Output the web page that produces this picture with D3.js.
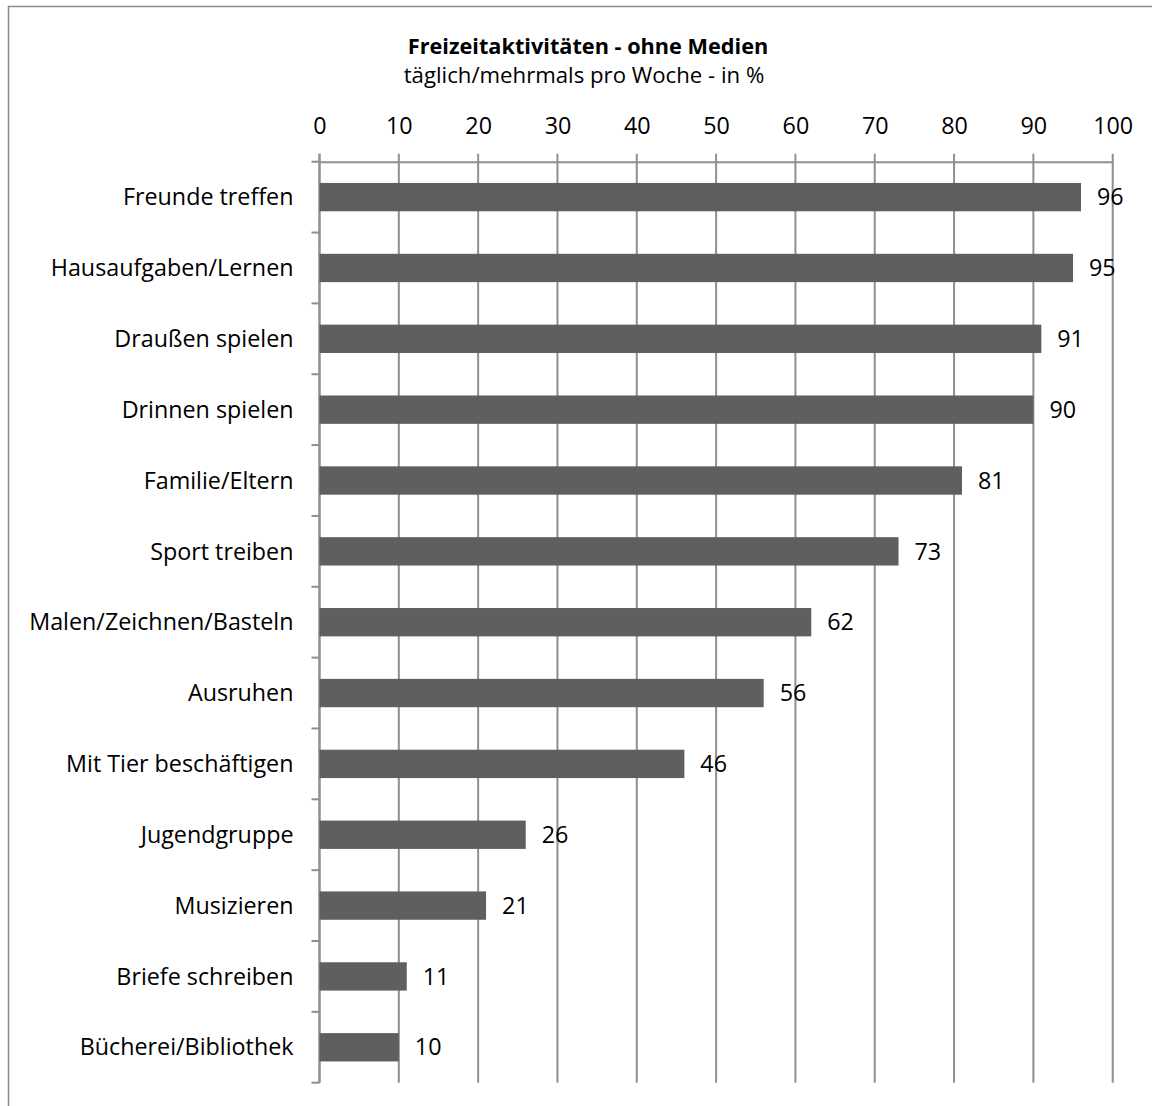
<!DOCTYPE html>
<html>
<head>
<meta charset="utf-8">
<script src="https://cdn.jsdelivr.net/npm/d3@7"></script>
<style>
  html, body { margin: 0; padding: 0; background: #fff; }
  svg { display: block; }
  text { font-family: "Open Sans", sans-serif; fill: #000; }
</style>
</head>
<body>
<script>
// Activities, top to bottom
const categories = [
  "Freunde treffen",
  "Hausaufgaben/Lernen",
  "Draußen spielen",
  "Drinnen spielen",
  "Familie/Eltern",
  "Sport treiben",
  "Malen/Zeichnen/Basteln",
  "Ausruhen",
  "Mit Tier beschäftigen",
  "Jugendgruppe",
  "Musizieren",
  "Briefe schreiben",
  "Bücherei/Bibliothek"
];
// Share "täglich/mehrmals pro Woche" in %
const values = [96, 95, 91, 90, 81, 73, 62, 56, 46, 26, 21, 11, 10];
const xTicks = [0, 10, 20, 30, 40, 50, 60, 70, 80, 90, 100];

const title = "Freizeitaktivitäten - ohne Medien";
const subtitle = "täglich/mehrmals pro Woche - in %";

const W = 1152, H = 1106;
const plot = { left: 319.5, right: 1112.7, top: 161.7, bottom: 1082.7 };
const fontSize = "23.3px";

const svg = d3.select("body").append("svg")
  .attr("width", W).attr("height", H);

// outer chart frame
svg.append("rect")
  .attr("x", 8.5).attr("y", 6.5)
  .attr("width", W + 10).attr("height", H + 10)
  .attr("fill", "none").attr("stroke", "#8a8a8a").attr("stroke-width", 1.5);

svg.append("text")
  .attr("x", 588).attr("y", 54)
  .attr("text-anchor", "middle")
  .style("font-weight", "bold").style("font-size", "21.7px")
  .text(title);
svg.append("text")
  .attr("x", 584).attr("y", 83)
  .attr("text-anchor", "middle")
  .style("font-size", "22.2px")
  .text(subtitle);

const x = d3.scaleLinear().domain([0, 100]).range([plot.left, plot.right]);
const y = d3.scaleBand().domain(categories).range([plot.top, plot.bottom])
  .paddingInner(0.6).paddingOuter(0.3);
const yEdges = d3.scaleLinear().domain([0, categories.length]).range([plot.top, plot.bottom]);

const gridColor = "#8f8f8f";

// vertical gridlines, extending upward past the axis as tick marks
svg.append("g").selectAll("line").data(xTicks).join("line")
  .attr("x1", d => x(d)).attr("x2", d => x(d))
  .attr("y1", plot.top - 8).attr("y2", plot.bottom)
  .attr("stroke", gridColor).attr("stroke-width", 2);

// top value axis
const xAxis = d3.axisTop(x).tickValues(xTicks).tickSize(0).tickPadding(0).tickFormat(d3.format("d"));
const gx = svg.append("g").attr("transform", `translate(0,${plot.top})`).call(xAxis);
gx.select(".domain").attr("stroke", gridColor).attr("stroke-width", 2);
gx.selectAll("text").attr("y", -27.5).style("font-size", fontSize).attr("dy", 0);

// category axis line with boundary ticks
svg.append("line")
  .attr("x1", plot.left).attr("x2", plot.left)
  .attr("y1", plot.top - 8).attr("y2", plot.bottom)
  .attr("stroke", gridColor).attr("stroke-width", 2);
svg.append("g").selectAll("line").data(d3.range(categories.length + 1)).join("line")
  .attr("x1", plot.left - 8).attr("x2", plot.left)
  .attr("y1", d => yEdges(d)).attr("y2", d => yEdges(d))
  .attr("stroke", gridColor).attr("stroke-width", 2);

const yAxis = d3.axisLeft(y).tickSize(0).tickPadding(0);
const gy = svg.append("g").attr("transform", `translate(${plot.left - 26},0)`).call(yAxis);
gy.select(".domain").remove();
gy.selectAll("text").style("font-size", fontSize).attr("dy", "0.35em");

// bars
svg.append("g").selectAll("rect").data(values).join("rect")
  .attr("x", x(0))
  .attr("y", (d, i) => y(categories[i]))
  .attr("width", d => x(d) - x(0))
  .attr("height", y.bandwidth())
  .attr("fill", "#5f5f5f");

// value labels
svg.append("g").selectAll("text").data(values).join("text")
  .attr("x", d => x(d) + 16)
  .attr("y", (d, i) => y(categories[i]) + y.bandwidth() / 2)
  .attr("dy", "0.35em")
  .style("font-size", fontSize)
  .text(d => d);
</script>
</body>
</html>
